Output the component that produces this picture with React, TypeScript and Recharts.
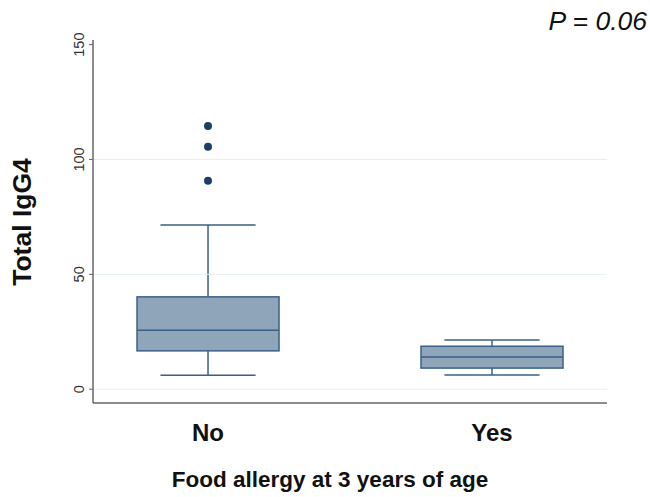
import {
  Bar,
  ComposedChart,
  Label,
  ReferenceLine,
  Scatter,
  XAxis,
  YAxis,
} from "recharts";

document.body.style.margin = "0";

const groups = ["No", "Yes"];
const groupPos = [1, 2];
const whiskerLow = [6.1, 6.2];
const q1 = [16.7, 9.2];
const median = [25.7, 14];
const q3 = [40.2, 18.7];
const whiskerHigh = [71.5, 21.4];
const outlierGroup = [1, 1, 1];
const outlierValues = [114.6, 105.5, 90.7];
const yTicks = [0, 50, 100, 150];
const gridValues = [0, 50, 100];

const boxData = groups.map((g, i) => ({
  name: g,
  x: groupPos[i],
  low: whiskerLow[i],
  q1: q1[i],
  median: median[i],
  q3: q3[i],
  high: whiskerHigh[i],
}));

const outliers = outlierValues.map((v, i) => ({ x: outlierGroup[i], y: v }));

const FONT = "'Liberation Sans', Arial, sans-serif";
const BOX_FILL = "#8fa5ba";
const BOX_STROKE = "#3b5f86";

function BoxShape(props: any) {
  const { x, y, width, height, payload } = props;
  const k = height / (payload.high - payload.low);
  const toY = (v: number) => y + (payload.high - v) * k;
  const cx = x + width / 2;
  const cap = width * 0.335;
  return (
    <g stroke={BOX_STROKE} strokeWidth={1.5}>
      <line x1={cx} x2={cx} y1={toY(payload.high)} y2={toY(payload.q3)} />
      <line x1={cx} x2={cx} y1={toY(payload.q1)} y2={toY(payload.low)} />
      <line x1={cx - cap} x2={cx + cap} y1={toY(payload.high)} y2={toY(payload.high)} />
      <line x1={cx - cap} x2={cx + cap} y1={toY(payload.low)} y2={toY(payload.low)} />
      <rect
        x={x}
        y={toY(payload.q3)}
        width={width}
        height={toY(payload.q1) - toY(payload.q3)}
        fill={BOX_FILL}
      />
      <line x1={x} x2={x + width} y1={toY(payload.median)} y2={toY(payload.median)} />
    </g>
  );
}

function YTick(props: any) {
  const { x, y, payload } = props;
  const bx = x - 3;
  return (
    <text
      x={bx}
      y={y}
      transform={`rotate(-90 ${bx} ${y})`}
      textAnchor="middle"
      fill="#333"
      fontSize={14.5}
      fontFamily={FONT}
    >
      {payload.value}
    </text>
  );
}

function XTick(props: any) {
  const { x, y, payload } = props;
  const idx = groupPos.indexOf(payload.value);
  return (
    <text
      x={x}
      y={y + 30}
      textAnchor="middle"
      fill="#111"
      fontSize={24}
      fontWeight="bold"
      fontFamily={FONT}
    >
      {groups[idx]}
    </text>
  );
}

export default function App() {
  return (
    <div style={{ width: 650, height: 497, background: "#fff" }}>
      <ComposedChart
        width={650}
        height={497}
        data={boxData}
        margin={{ top: 40, right: 43, bottom: 34, left: 10 }}
      >
        {gridValues.map((v) => (
          <ReferenceLine key={v} y={v} stroke="#e6eef2" strokeWidth={1} />
        ))}
        <XAxis
          type="number"
          dataKey="x"
          domain={[0.595, 2.405]}
          ticks={groupPos}
          tick={<XTick />}
          tickLine={false}
          axisLine={{ stroke: "#666", strokeWidth: 1.5 }}
          height={60}
          allowDataOverflow
        >
          <Label
            content={() => (
              <text
                x={330}
                y={487}
                textAnchor="middle"
                fill="#111"
                fontSize={22.5}
                fontWeight="bold"
                fontFamily={FONT}
              >
                Food allergy at 3 years of age
              </text>
            )}
          />
        </XAxis>
        <YAxis
          type="number"
          domain={[-6, 152]}
          ticks={yTicks}
          tick={<YTick />}
          tickSize={4}
          tickLine={{ stroke: "#666" }}
          axisLine={{ stroke: "#666", strokeWidth: 1.5 }}
          width={83}
          allowDataOverflow
        >
          <Label
            content={() => (
              <text
                x={31}
                y={222}
                transform="rotate(-90 31 222)"
                textAnchor="middle"
                fill="#111"
                fontSize={26.5}
                fontWeight="bold"
                fontFamily={FONT}
              >
                Total IgG4
              </text>
            )}
          />
        </YAxis>
        <Bar
          dataKey={(d: any) => [d.low, d.high]}
          barSize={142}
          shape={<BoxShape />}
          isAnimationActive={false}
        />
        <Scatter
          data={outliers}
          dataKey="y"
          fill="#1c3f66"
          shape={(p: any) => <circle cx={p.cx} cy={p.cy} r={4} fill="#1c3f66" />}
          isAnimationActive={false}
        />
        <text
          x={647}
          y={30}
          textAnchor="end"
          fill="#111"
          fontSize={26.5}
          fontStyle="italic"
          fontFamily={FONT}
        >
          P = 0.06
        </text>
      </ComposedChart>
    </div>
  );
}
